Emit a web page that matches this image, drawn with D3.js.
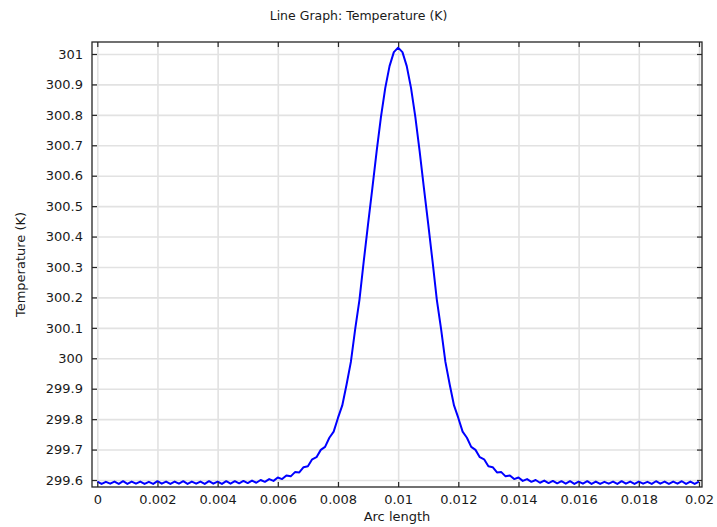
<!DOCTYPE html>
<html>
<head>
<meta charset="utf-8">
<script src="https://cdn.jsdelivr.net/npm/d3@7"></script>
<style>
  html, body { margin: 0; padding: 0; background: #fff; }
  svg { display: block; font-family: "DejaVu Sans", sans-serif; }
</style>
</head>
<body>
<svg id="chart" width="717" height="527"></svg>
<script>
// ---- data ----
const arcLength = [
  0, 0.000143, 0.000286, 0.000429, 0.000571, 0.000714, 0.000857,
  0.001, 0.001143, 0.001286, 0.001429, 0.001571, 0.001714, 0.001857,
  0.002, 0.002143, 0.002286, 0.002429, 0.002571, 0.002714, 0.002857,
  0.003, 0.003143, 0.003286, 0.003429, 0.003571, 0.003714, 0.003857,
  0.004, 0.004143, 0.004286, 0.004429, 0.004571, 0.004714, 0.004857,
  0.005, 0.005143, 0.005286, 0.005429, 0.005571, 0.005714, 0.005857,
  0.006, 0.006143, 0.006286, 0.006429, 0.006571, 0.006714, 0.006857,
  0.007, 0.007143, 0.007286, 0.007429, 0.007571, 0.007714, 0.007857,
  0.008, 0.008143, 0.008286, 0.008429, 0.008571, 0.008714, 0.008857,
  0.009, 0.009143, 0.009286, 0.009429, 0.009571, 0.009714, 0.009857,
  0.010, 0.010143, 0.010286, 0.010429, 0.010571, 0.010714, 0.010857,
  0.011, 0.011143, 0.011286, 0.011429, 0.011571, 0.011714, 0.011857,
  0.012, 0.012143, 0.012286, 0.012429, 0.012571, 0.012714, 0.012857,
  0.013, 0.013143, 0.013286, 0.013429, 0.013571, 0.013714, 0.013857,
  0.014, 0.014143, 0.014286, 0.014429, 0.014571, 0.014714, 0.014857,
  0.015, 0.015143, 0.015286, 0.015429, 0.015571, 0.015714, 0.015857,
  0.016, 0.016143, 0.016286, 0.016429, 0.016571, 0.016714, 0.016857,
  0.017, 0.017143, 0.017286, 0.017429, 0.017571, 0.017714, 0.017857,
  0.018, 0.018143, 0.018286, 0.018429, 0.018571, 0.018714, 0.018857,
  0.019, 0.019143, 0.019286, 0.019429, 0.019571, 0.019714, 0.019857,
  0.020
];

const temperature = [
  299.595, 299.587, 299.594, 299.588, 299.595, 299.587, 299.596,
  299.587, 299.595, 299.588, 299.595, 299.587, 299.594, 299.587,
  299.596, 299.588, 299.595, 299.587, 299.595, 299.588, 299.596,
  299.587, 299.595, 299.588, 299.595, 299.587, 299.596, 299.588,
  299.595, 299.587, 299.596, 299.588, 299.596, 299.589, 299.597,
  299.590, 299.598, 299.591, 299.600, 299.594, 299.603, 299.597,
  299.608, 299.603, 299.615, 299.612, 299.626, 299.625, 299.642,
  299.645, 299.668, 299.675, 299.699, 299.709, 299.739, 299.759,
  299.804, 299.845, 299.914, 299.988, 300.095, 300.192, 300.319,
  300.441, 300.559, 300.681, 300.793, 300.888, 300.960, 301.006,
  301.021, 301.006, 300.960, 300.888, 300.793, 300.681, 300.559,
  300.441, 300.319, 300.192, 300.095, 299.988, 299.914, 299.845,
  299.804, 299.759, 299.739, 299.709, 299.699, 299.675, 299.668,
  299.645, 299.642, 299.625, 299.626, 299.612, 299.615, 299.603,
  299.608, 299.597, 299.603, 299.594, 299.600, 299.591, 299.598,
  299.590, 299.597, 299.589, 299.596, 299.588, 299.596, 299.587,
  299.595, 299.588, 299.596, 299.587, 299.595, 299.587, 299.594,
  299.588, 299.595, 299.587, 299.596, 299.588, 299.595, 299.587,
  299.595, 299.588, 299.594, 299.587, 299.596, 299.588, 299.595,
  299.587, 299.595, 299.588, 299.596, 299.587, 299.595, 299.587,
  299.595
];

const xTickValues = [0, 0.002, 0.004, 0.006, 0.008, 0.01, 0.012, 0.014, 0.016, 0.018, 0.02];
const xTickLabels = ["0", "0.002", "0.004", "0.006", "0.008", "0.01", "0.012", "0.014", "0.016", "0.018", "0.02"];
const yTickValues = [299.6, 299.7, 299.8, 299.9, 300, 300.1, 300.2, 300.3, 300.4, 300.5, 300.6, 300.7, 300.8, 300.9, 301];
const yTickLabels = ["299.6", "299.7", "299.8", "299.9", "300", "300.1", "300.2", "300.3", "300.4", "300.5", "300.6", "300.7", "300.8", "300.9", "301"];

const titleText = "Line Graph: Temperature (K)";
const xLabel = "Arc length";
const yLabel = "Temperature (K)";

// ---- layout ----
const W = 717, H = 527;
const pLeft = 92, pRight = 702, pTop = 42, pBottom = 487;
const xDomain = [-0.000176, 0.0201];
const yDomain = [299.577, 301.0394];

const svg = d3.select("#chart");
const x = d3.scaleLinear().domain(xDomain).range([pLeft, pRight]);
const y = d3.scaleLinear().domain(yDomain).range([pBottom, pTop]);

const gridColor = "#e2e2e2";
const axisColor = "#262626";
const textColor = "#1a1a1a";

// grid
svg.append("g")
  .attr("transform", `translate(0,${pBottom})`)
  .call(d3.axisBottom(x).tickValues(xTickValues).tickSize(-(pBottom - pTop)).tickFormat(""))
  .call(g => g.select(".domain").remove())
  .call(g => g.selectAll("line").attr("stroke", gridColor).attr("stroke-width", 1.6));
svg.append("g")
  .attr("transform", `translate(${pLeft},0)`)
  .call(d3.axisLeft(y).tickValues(yTickValues).tickSize(-(pRight - pLeft)).tickFormat(""))
  .call(g => g.select(".domain").remove())
  .call(g => g.selectAll("line").attr("stroke", gridColor).attr("stroke-width", 1.6));

// data line
const pts = d3.zip(arcLength, temperature);
svg.append("path")
  .datum(pts)
  .attr("fill", "none")
  .attr("stroke", "#0000ff")
  .attr("stroke-width", 2)
  .attr("stroke-linejoin", "round")
  .attr("d", d3.line().x(d => x(d[0])).y(d => y(d[1])));

// axes (ticks pointing inward)
const xFmt = (d, i) => xTickLabels[i];
const yFmt = (d, i) => yTickLabels[i];
function styleAxis(g) {
  g.select(".domain").remove();
  g.selectAll("line").attr("stroke", axisColor).attr("stroke-width", 1.2);
  g.selectAll("text").attr("fill", textColor).attr("font-size", 13)
    .attr("font-family", "DejaVu Sans, sans-serif");
}
svg.append("g").attr("transform", `translate(0,${pBottom})`)
  .call(d3.axisBottom(x).tickValues(xTickValues).tickSizeInner(-5).tickSizeOuter(0).tickPadding(8).tickFormat(xFmt))
  .call(styleAxis);
svg.append("g").attr("transform", `translate(0,${pTop})`)
  .call(d3.axisTop(x).tickValues(xTickValues).tickSizeInner(-5).tickSizeOuter(0).tickFormat(""))
  .call(styleAxis);
svg.append("g").attr("transform", `translate(${pLeft},0)`)
  .call(d3.axisLeft(y).tickValues(yTickValues).tickSizeInner(-5).tickSizeOuter(0).tickPadding(9).tickFormat(yFmt))
  .call(styleAxis);
svg.append("g").attr("transform", `translate(${pRight},0)`)
  .call(d3.axisRight(y).tickValues(yTickValues).tickSizeInner(-5).tickSizeOuter(0).tickFormat(""))
  .call(styleAxis);

// frame
svg.append("rect")
  .attr("x", pLeft).attr("y", pTop)
  .attr("width", pRight - pLeft).attr("height", pBottom - pTop)
  .attr("fill", "none").attr("stroke", axisColor).attr("stroke-width", 1.3);

// title and axis labels
svg.append("text")
  .attr("x", W / 2).attr("y", 20)
  .attr("text-anchor", "middle").attr("font-size", 12.5).attr("fill", textColor)
  .text(titleText);
svg.append("text")
  .attr("x", (pLeft + pRight) / 2).attr("y", 521)
  .attr("text-anchor", "middle").attr("font-size", 13).attr("fill", textColor)
  .text(xLabel);
svg.append("text")
  .attr("transform", `translate(25,${(pTop + pBottom) / 2}) rotate(-90)`)
  .attr("text-anchor", "middle").attr("font-size", 13).attr("fill", textColor)
  .text(yLabel);
</script>
</body>
</html>
